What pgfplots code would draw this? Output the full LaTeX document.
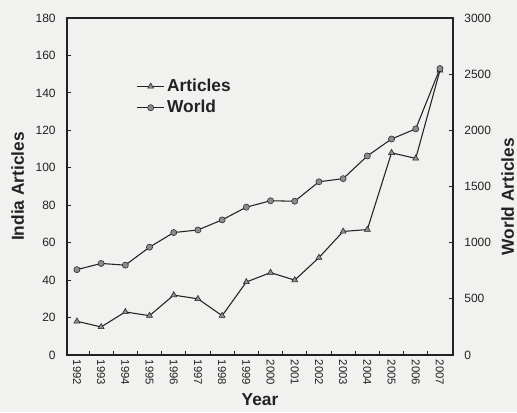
\documentclass[border=0pt]{standalone}
\usepackage{pgfplots}
\pgfplotsset{compat=1.18}
\usepackage{fontspec}
\setmainfont{Liberation Sans}

\definecolor{ink}{HTML}{222222}
\definecolor{mk}{HTML}{8C8C8C}
\definecolor{paper}{HTML}{F1F1EF}

% India articles (left axis) and world articles (right axis)
\pgfplotstableread{
year india world
1992 18  760
1993 15  815
1994 23  800
1995 21  960
1996 32  1090
1997 30  1113
1998 21  1203
1999 39  1316
2000 44  1373
2001 40  1369
2002 52  1542
2003 66  1570
2004 67  1772
2005 108 1923
2006 105 2013
2007 152 2550
}\data

\pgfplotsset{
  common/.style={
    width=289.5pt, height=252.75pt, scale only axis,
    xmin=1991.59, xmax=2007.54,
    axis line style={ink, line width=0.8pt},
    tick style={ink, line width=0.6pt},
    major tick length=3pt, minor tick length=3pt,
    tick align=inside,
    ticklabel style={font=\fontsize{9}{10}\selectfont, text=ink},
    label style={font=\fontsize{13}{15}\selectfont\bfseries, text=ink},
    /pgf/number format/assume math mode=true,
    /pgf/number format/1000 sep={},
  },
}

\begin{document}
\begin{tikzpicture}
\path[use as bounding box, fill=paper] (-50.25pt,-42.75pt) rectangle (337.5pt,266.25pt);

\begin{axis}[common,
  ymin=0, ymax=180, ytick={0,20,...,180},
  ytick pos=left, xtick pos=bottom,
  xtick={1992,...,2007},
  minor xtick={1992.5,1993.5,...,2006.5},
  every major x tick/.style={draw=none},
  xticklabel style={rotate=-90, anchor=west, font=\fontsize{8.5}{10}\selectfont},
  yticklabel style={xshift=-5pt},
  xlabel={Year},
  xlabel style={at={(axis description cs:0.5,0)}, anchor=north, inner sep=0pt, yshift=-29pt},
  ylabel={India Articles},
  ylabel style={at={(axis description cs:0,0.5)}, anchor=center, yshift=37pt},
  legend style={draw=none, fill=none, at={(0.17,0.835)}, anchor=north west,
    font=\fontsize{13}{15}\selectfont\bfseries, text=ink, row sep=1pt},
  legend cell align=left,
  legend image code/.code={\draw[mark repeat=2,mark phase=2] plot coordinates {(0cm,0cm) (0.35cm,0cm) (0.7cm,0cm)};},
]
\addplot[ink, line width=0.8pt, mark=triangle*, mark size=2.6pt,
  mark options={fill=mk, draw=ink, line width=0.4pt}] table[x=year, y=india] {\data};
\addlegendentry{Articles}
\addlegendimage{ink, line width=0.8pt, mark=*, mark size=2.3pt,
  mark options={fill=mk, draw=ink, line width=0.4pt}}
\addlegendentry{World}
\end{axis}

\begin{axis}[common,
  ymin=0, ymax=3000, ytick={0,500,...,3000},
  axis y line*=right, axis x line=none,
  yticklabel style={xshift=5pt},
  ylabel={World Articles},
  ylabel style={at={(axis description cs:1,0.47)}, anchor=center, yshift=-41pt},
]
\addplot[ink, line width=0.8pt, mark=*, mark size=2.3pt,
  mark options={fill=mk, draw=ink, line width=0.4pt}] table[x=year, y=world] {\data};
\end{axis}
\end{tikzpicture}
\end{document}
